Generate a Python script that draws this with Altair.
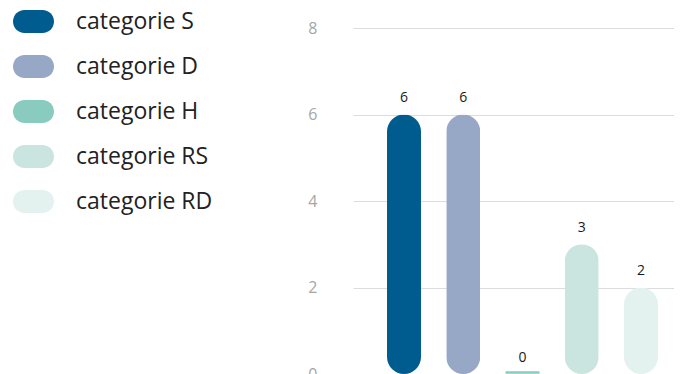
import altair as alt
import pandas as pd

categories = ["categorie S", "categorie D", "categorie H", "categorie RS", "categorie RD"]
values = [6, 6, 0, 3, 2]
colors = ["#005c8f", "#97a8c6", "#8acbc0", "#cae5e0", "#e4f2ef"]
y_ticks = [0, 2, 4, 6, 8]

df = pd.DataFrame({"cat": categories, "value": values})

FONT = "Open Sans"

pill = "M-0.439,-0.561 L0.439,-0.561 A0.561,0.561 0 0 1 0.439,0.561 L-0.439,0.561 A0.561,0.561 0 0 1 -0.439,-0.561 Z"

x = alt.X("cat:N", sort=categories, title=None,
          scale=alt.Scale(paddingInner=0.4262, paddingOuter=0.422, align=0.68),
          axis=None)
y = alt.Y("value:Q", title=None,
          scale=alt.Scale(domain=[0, 8], nice=False),
          axis=alt.Axis(values=y_ticks, tickSize=0, domain=False, labelPadding=36,
                        labelFontSize=16, labelColor="#a6a6a6", labelFont=FONT,
                        gridColor="#dcdcdc", gridWidth=1))
color = alt.Color("cat:N", sort=categories, title=None,
                  scale=alt.Scale(domain=categories, range=colors),
                  legend=alt.Legend(orient="none", legendX=-340, legendY=-27,
                                    symbolType=pill, symbolSize=1681,
                                    symbolStrokeWidth=0, symbolOpacity=1,
                                    labelFontSize=23, labelFont=FONT, labelColor="#222222",
                                    labelOffset=22, rowPadding=12, padding=0,
                                    labelLimit=300))

bars = alt.Chart(df).mark_bar(cornerRadius=17, clip=False).encode(x=x, y=y, color=color)

zero = alt.Chart(df).transform_filter("datum.value == 0").mark_tick(
    thickness=2.6, size=34, yOffset=-1.5, opacity=1
).encode(x=x, y=y, color=alt.Color("cat:N", sort=categories,
                                    scale=alt.Scale(domain=categories, range=colors),
                                    legend=None))

labels = alt.Chart(df).mark_text(
    baseline="alphabetic", dy=-12.5, fontSize=14, font=FONT, color="#1a1a1a"
).encode(x=x, y=y, text="value:Q")

chart = alt.layer(bars, zero, labels).properties(
    width=321, height=346,
    autosize=alt.AutoSizeParams(type="none"),
    padding={"left": 345, "top": 20, "right": 0, "bottom": 20},
).configure_view(stroke=None)

chart.save("out.html", embed_options={"renderer": "svg", "actions": False})
